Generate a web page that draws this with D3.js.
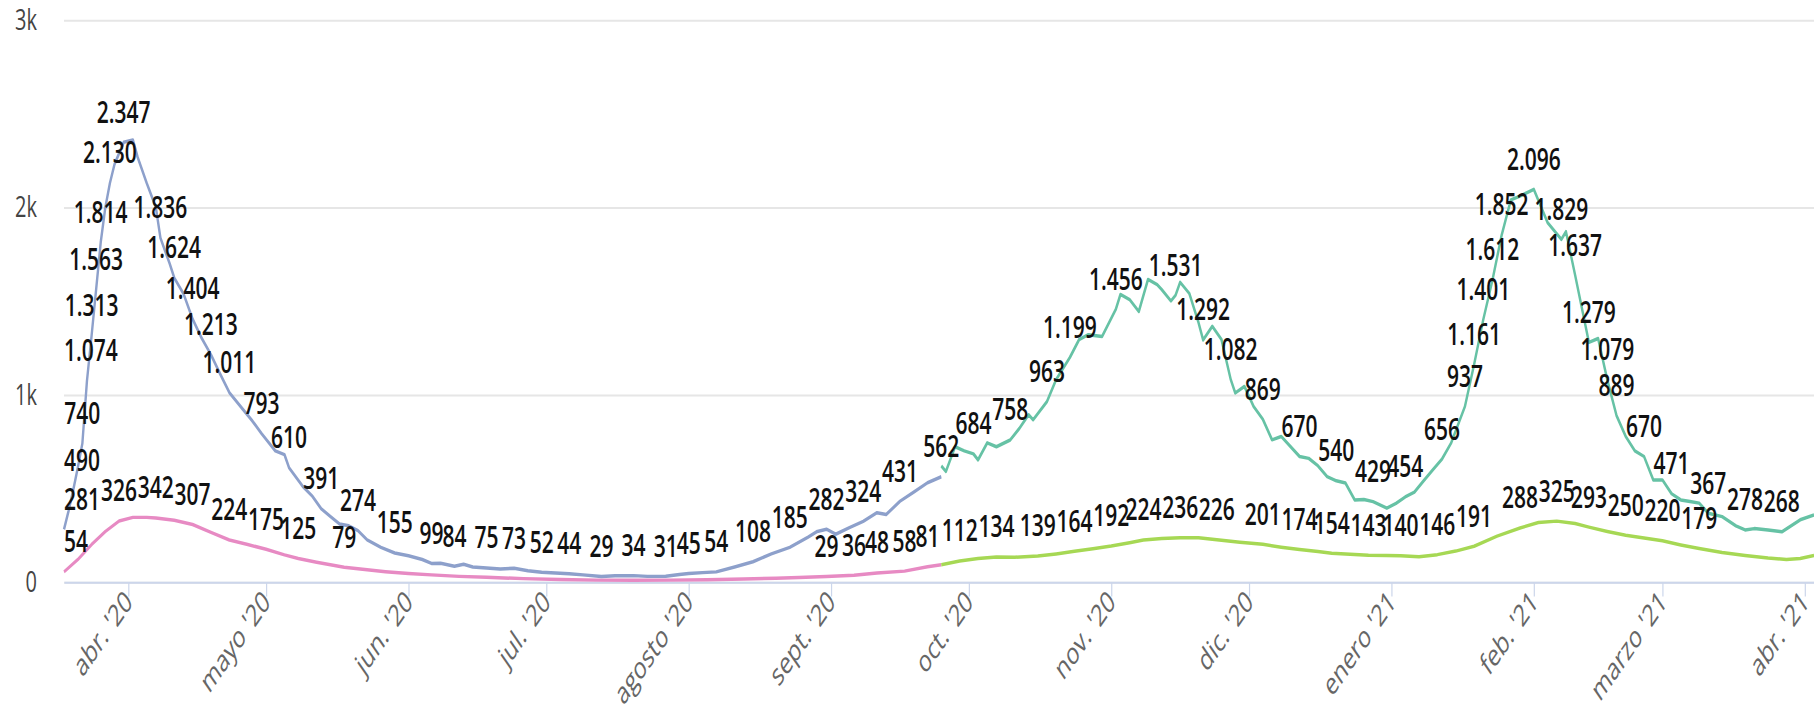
<!DOCTYPE html>
<html>
<head>
<meta charset="utf-8">
<script src="https://cdn.jsdelivr.net/npm/d3@7"></script>
<style>
	html, body { margin: 0; padding: 0; background: #fff; overflow: hidden; }
	svg { display: block; }
	text { font-family: "Open Sans", "Noto Sans", sans-serif; }
</style>
</head>
<body>
<svg id="chart"></svg>
<script>
// first day shown, every series point is [days after startDate, value, show label]
const startDate = new Date(2020, 2, 18);
const lastDay = 381;

// hospitalised, first wave (blue)
const hospFirst = [
	[0, 281, 1], [1, 380, 0], [2, 490, 1], [3, 610, 0], [4, 740, 1], [5, 1074, 1],
	[6, 1313, 1], [7, 1563, 1], [8, 1814, 1], [9, 2000, 0], [10, 2130, 1], [11, 2230, 0],
	[13, 2347, 1], [15, 2360, 0], [16, 2270, 0], [18, 2130, 0], [20, 2000, 0], [21, 1836, 1],
	[23, 1700, 0], [24, 1624, 1], [26, 1540, 0], [28, 1404, 1], [30, 1300, 0], [32, 1213, 1],
	[34, 1110, 0], [36, 1011, 1], [39, 920, 0], [41, 860, 0], [43, 793, 1], [46, 700, 0],
	[48, 680, 0], [49, 610, 1], [52, 510, 0], [54, 460, 0], [56, 391, 1], [58, 350, 0],
	[60, 310, 0], [62, 300, 0], [64, 274, 1], [66, 225, 0], [69, 185, 0], [72, 155, 1],
	[75, 140, 0], [78, 120, 0], [80, 99, 1], [82, 100, 0], [85, 84, 1], [87, 95, 0],
	[89, 80, 0], [92, 75, 1], [95, 70, 0], [98, 73, 1], [101, 60, 0], [104, 52, 1],
	[107, 48, 0], [110, 44, 1], [113, 38, 0], [117, 29, 1], [120, 33, 0], [124, 34, 1],
	[127, 30, 0], [131, 31, 1], [134, 40, 0], [136, 45, 1], [139, 50, 0], [142, 54, 1],
	[146, 80, 0], [150, 108, 1], [154, 150, 0], [158, 185, 1], [162, 240, 0], [164, 270, 0],
	[166, 282, 1], [168, 255, 0], [171, 290, 0], [174, 324, 1], [177, 370, 0], [179, 360, 0],
	[182, 431, 1], [185, 480, 0], [188, 530, 0], [191, 562, 1],
];

// hospitalised, second and third wave (teal)
const hospSecond = [
	[191, 620, 0], [192, 590, 0], [194, 722, 0], [196, 700, 0], [198, 684, 1], [199, 652, 0],
	[201, 743, 0], [203, 722, 0], [206, 758, 1], [208, 820, 0], [210, 893, 0], [211, 866, 0],
	[214, 963, 1], [216, 1080, 0], [219, 1199, 1], [221, 1294, 0], [223, 1320, 0], [226, 1310, 0],
	[229, 1456, 1], [230, 1535, 0], [232, 1508, 0], [234, 1444, 0], [236, 1615, 0], [238, 1588, 0],
	[239, 1561, 0], [241, 1500, 0], [242, 1531, 1], [243, 1600, 0], [245, 1540, 0], [247, 1385, 0],
	[248, 1292, 1], [250, 1365, 0], [252, 1294, 0], [254, 1082, 1], [255, 1009, 0], [257, 1044, 0],
	[259, 937, 0], [261, 869, 1], [263, 759, 0], [265, 777, 0], [269, 670, 1], [271, 660, 0],
	[273, 620, 0], [275, 563, 0], [277, 540, 1], [279, 528, 0], [281, 438, 0], [283, 440, 0],
	[285, 429, 1], [288, 394, 0], [290, 420, 0], [292, 454, 1], [294, 480, 0], [296, 540, 0],
	[298, 599, 0], [300, 656, 1], [302, 742, 0], [305, 937, 1], [307, 1161, 1], [309, 1401, 1],
	[311, 1612, 1], [313, 1852, 1], [315, 2040, 0], [317, 2060, 0], [320, 2096, 1], [323, 1918, 0],
	[326, 1829, 1], [327, 1870, 0], [329, 1637, 1], [332, 1279, 1], [334, 1300, 0], [336, 1079, 1],
	[338, 889, 1], [340, 777, 0], [342, 700, 0], [344, 670, 1], [346, 545, 0], [348, 545, 0],
	[350, 471, 1], [352, 438, 0], [354, 430, 0], [356, 421, 0], [358, 367, 1], [361, 349, 0],
	[364, 300, 0], [366, 278, 1], [368, 285, 0], [371, 278, 0], [374, 268, 1], [376, 300, 0],
	[378, 332, 0], [381, 358, 0],
];

// ICU, first wave (pink)
const icuFirst = [
	[0, 54, 1], [3, 120, 0], [6, 200, 0], [9, 270, 0], [12, 326, 1], [15, 345, 0],
	[18, 345, 0], [20, 342, 1], [24, 330, 0], [28, 307, 1], [32, 265, 0], [36, 224, 1],
	[40, 200, 0], [44, 175, 1], [48, 145, 0], [51, 125, 1], [55, 105, 0], [58, 92, 0],
	[61, 79, 1], [66, 65, 0], [70, 55, 0], [75, 45, 0], [80, 38, 0], [86, 30, 0],
	[92, 25, 0], [100, 18, 0], [108, 13, 0], [116, 10, 0], [124, 9, 0], [132, 10, 0],
	[140, 12, 0], [148, 16, 0], [155, 20, 0], [160, 24, 0], [166, 29, 1], [172, 36, 1],
	[177, 48, 1], [183, 58, 1], [188, 81, 1], [191, 92, 0],
];

// ICU, second and third wave (green)
const icuSecond = [
	[191, 92, 0], [195, 112, 1], [199, 125, 0], [203, 134, 1], [207, 132, 0], [212, 139, 1],
	[216, 150, 0], [220, 164, 1], [224, 178, 0], [228, 192, 1], [232, 210, 0], [235, 224, 1],
	[239, 232, 0], [243, 236, 1], [247, 236, 0], [251, 226, 1], [256, 212, 0], [261, 201, 1],
	[265, 186, 0], [269, 174, 1], [273, 163, 0], [276, 154, 1], [280, 148, 0], [284, 143, 1],
	[288, 142, 0], [291, 140, 1], [295, 135, 0], [299, 146, 1], [303, 165, 0], [307, 191, 1],
	[312, 245, 0], [317, 288, 1], [321, 318, 0], [325, 325, 1], [329, 312, 0], [332, 293, 1],
	[336, 270, 0], [340, 250, 1], [344, 235, 0], [348, 220, 1], [352, 198, 0], [356, 179, 1],
	[361, 158, 0], [366, 142, 0], [371, 128, 0], [375, 120, 0], [378, 125, 0], [381, 142, 0],
];

const yTicks = [0, 1000, 2000, 3000];
const yTickLabels = ["0", "1k", "2k", "3k"];
const monthNames = ["enero", "feb.", "marzo", "abr.", "mayo", "jun.", "jul.", "agosto", "sept.", "oct.", "nov.", "dic."];

// the reference is a screenshot stretched vertically, so draw squeezed and let the viewBox stretch it
const stretch = 1.45;
const size = { w: 1814, h: 715 / stretch };
const margin = { t: 20 / stretch, r: 0, b: (715 - 582) / stretch, l: 64 };

const svg = d3
	.select("svg#chart")
	.attr("width", 1814)
	.attr("height", 715)
	.attr("viewBox", `0 0 ${size.w} ${size.h}`)
	.attr("preserveAspectRatio", "none");

const day = (n) => d3.timeDay.offset(startDate, n);

const x = d3
	.scaleTime()
	.domain([startDate, day(lastDay)])
	.range([margin.l, size.w - margin.r]);

const y = d3
	.scaleLinear()
	.domain([0, 3000])
	.range([size.h - margin.b, margin.t]);

const es = d3.formatLocale({ decimal: ",", thousands: ".", grouping: [3], currency: ["", " €"] });
const fmt = es.format(",d");

// y-axis with gridlines
const yAxisG = svg
	.append("g")
	.classed("axis-y", true)
	.attr("transform", `translate(${margin.l}, 0)`)
	.call(
		d3.axisLeft(y)
			.tickValues(yTicks)
			.tickFormat((d, i) => yTickLabels[i])
			.tickSize(-(size.w - margin.l - margin.r))
			.tickPadding(27)
	);
yAxisG.select(".domain").remove();
yAxisG.selectAll("line").attr("stroke", "#e6e6e6").attr("stroke-width", 1.4);
yAxisG.selectAll("text").attr("fill", "#444").style("font-size", "20px");

// x-axis, one tick per month
const monthTicks = d3.timeMonth.range(new Date(2020, 3, 1), day(lastDay));
const xAxisG = svg
	.append("g")
	.classed("axis-x", true)
	.attr("transform", `translate(0, ${y(0)})`)
	.call(
		d3.axisBottom(x)
			.tickValues(monthTicks)
			.tickFormat((d) => `${monthNames[d.getMonth()]} '${String(d.getFullYear()).slice(2)}`)
			.tickSize(10)
			.tickSizeOuter(0)
	);
xAxisG.select(".domain").attr("stroke", "#ccd6eb").attr("stroke-width", 1.4);
xAxisG.selectAll("line").attr("stroke", "#ccd6eb").attr("stroke-width", 1.2);
xAxisG
	.selectAll("text")
	.attr("x", 0)
	.attr("y", 0)
	.attr("dy", 0)
	.attr("text-anchor", "end")
	.attr("transform", "translate(5, 15) rotate(-45)")
	.attr("fill", "#666")
	.style("font-size", "21px");

const series = [
	{ data: icuFirst, color: "#e78ac3" },
	{ data: icuSecond, color: "#a6d854" },
	{ data: hospFirst, color: "#8da0cb" },
	{ data: hospSecond, color: "#66c2a5" },
];

const line = d3
	.line()
	.x((d) => x(day(d[0])))
	.y((d) => y(d[1]));

svg
	.append("g")
	.classed("lines", true)
	.selectAll("path")
	.data(series)
	.join("path")
	.attr("d", (s) => line(s.data))
	.attr("fill", "none")
	.attr("stroke", (s) => s.color)
	.attr("stroke-width", 2.4)
	.attr("stroke-linejoin", "round");

// data labels, pushed right when they would leave the plot
const labelled = series.flatMap((s) => s.data.filter((d) => d[2]));
svg
	.append("g")
	.classed("labels", true)
	.selectAll("text")
	.data(labelled)
	.join("text")
	.text((d) => fmt(d[1]))
	.attr("text-anchor", "middle")
	.attr("y", (d) => y(d[1]) - 13.5)
	.attr("fill", "#111")
	.style("font-size", "21px")
	.style("font-weight", 600)
	.attr("x", function (d) {
		let px = x(day(d[0]));
		let half = this.getComputedTextLength() / 2;
		return Math.max(px, margin.l + half);
	});
</script>
</body>
</html>
